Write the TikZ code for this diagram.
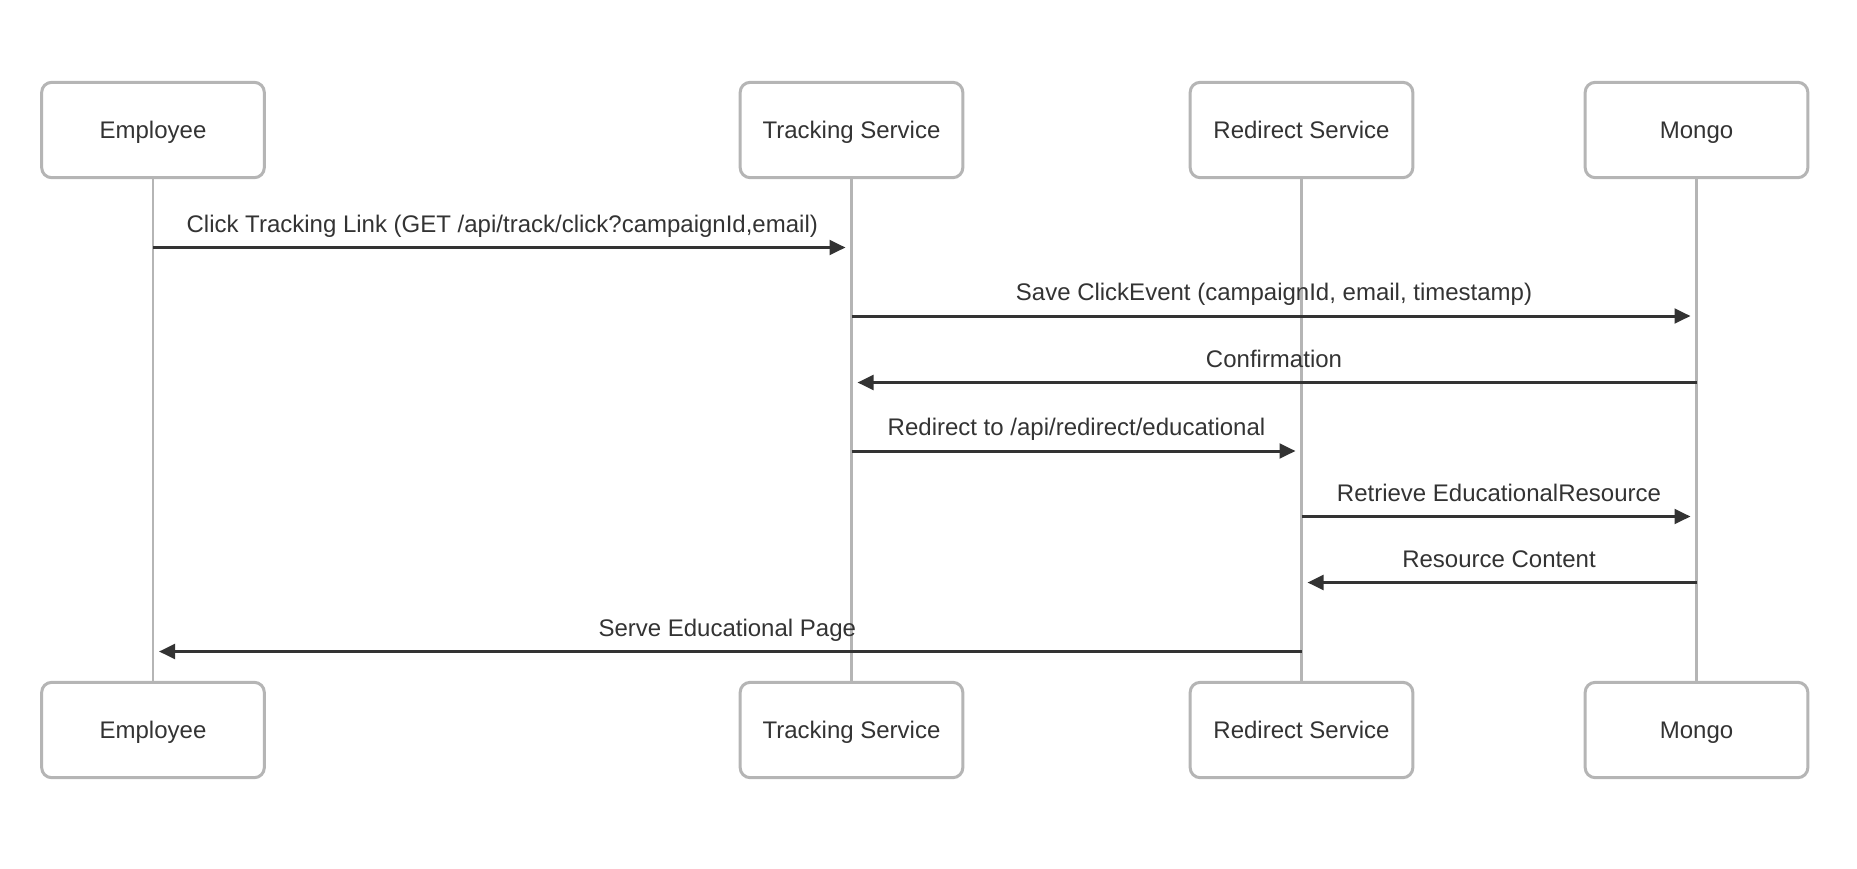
\documentclass[tikz,border=0pt]{standalone}
\usepackage{fontspec}
\setmainfont{Liberation Sans}
\usetikzlibrary{arrows.meta}
\definecolor{BoxGray}{HTML}{B5B5B5}
\definecolor{LineDark}{HTML}{333333}

\begin{document}
\begin{tikzpicture}[x=0.75pt,y=-0.75pt]
\useasboundingbox (0,0) rectangle (1857,868);

\tikzset{ActorStyle/.style = {
 draw = BoxGray,
 line width = 2.25pt,
 rounded corners = 7.5pt,
 fill = white,
 text = LineDark,
 text height = 12.9pt,
 text depth = 0pt,
 minimum width = 167pt,
 minimum height = 71.5pt,
 font = \fontsize{18}{22}\selectfont} }

\node[ActorStyle] (Emp_1) at (153, 130) {Employee};
\node[ActorStyle] (Trk_1) at (851.5, 130) {Tracking Service};
\node[ActorStyle] (Red_1) at (1301.5, 130) {Redirect Service};
\node[ActorStyle] (Mon_1) at (1696.5, 130) {Mongo};
\node[ActorStyle] (Emp_2) at (153, 730) {Employee};
\node[ActorStyle] (Trk_2) at (851.5, 730) {Tracking Service};
\node[ActorStyle] (Red_2) at (1301.5, 730) {Redirect Service};
\node[ActorStyle] (Mon_2) at (1696.5, 730) {Mongo};


\tikzset{LifeStyle/.style = {draw = BoxGray, line width = 2pt} }

\draw[LifeStyle] (Emp_1.south) -- (Emp_2.north);
\draw[LifeStyle] (Trk_1.south) -- (Trk_2.north);
\draw[LifeStyle] (Red_1.south) -- (Red_2.north);
\draw[LifeStyle] (Mon_1.south) -- (Mon_2.north);


\tikzset{MsgStyle/.style = {
 draw = LineDark,
 line width = 2.25pt,
 shorten > = 4.5pt,
 -{Triangle[length=12pt, width=11pt]}},
 MsgLabel/.style = {
 anchor = base,
 yshift = 11.6pt,
 inner sep = 0pt,
 text = LineDark,
 font = \fontsize{18}{22}\selectfont} }

\draw[MsgStyle] (Emp_1.south |- 0,247.5) -- node[MsgLabel] {Click Tracking Link (GET /api/track/click?campaignId,email)} (Trk_1.south |- 0,247.5);
\draw[MsgStyle] (Trk_1.south |- 0,316) -- node[MsgLabel] {Save ClickEvent (campaignId, email, timestamp)} (Mon_1.south |- 0,316);
\draw[MsgStyle] (Mon_1.south |- 0,382.5) -- node[MsgLabel] {Confirmation} (Trk_1.south |- 0,382.5);
\draw[MsgStyle] (Trk_1.south |- 0,451) -- node[MsgLabel] {Redirect to /api/redirect/educational} (Red_1.south |- 0,451);
\draw[MsgStyle] (Red_1.south |- 0,516.5) -- node[MsgLabel] {Retrieve EducationalResource} (Mon_1.south |- 0,516.5);
\draw[MsgStyle] (Mon_1.south |- 0,582.5) -- node[MsgLabel] {Resource Content} (Red_1.south |- 0,582.5);
\draw[MsgStyle] (Red_1.south |- 0,651.5) -- node[MsgLabel] {Serve Educational Page} (Emp_1.south |- 0,651.5);

\end{tikzpicture}
\end{document}
